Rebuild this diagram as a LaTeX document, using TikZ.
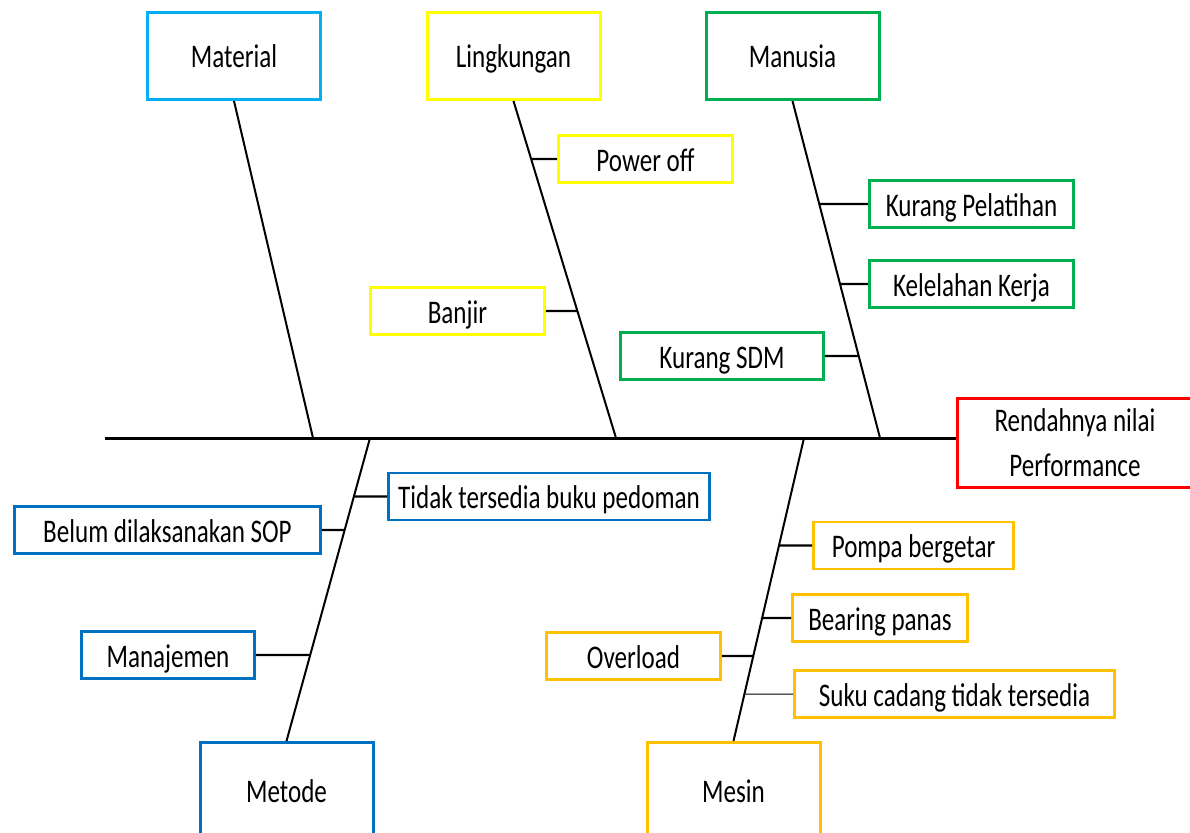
\documentclass[tikz,border=0pt]{standalone}
\usepackage{fontspec}
\setmainfont[FakeStretch=0.76]{Carlito}
\usetikzlibrary{positioning, calc}

\definecolor{matcyan}{HTML}{00B0F0}
\definecolor{envyellow}{HTML}{FFFF00}
\definecolor{mangreen}{HTML}{00B050}
\definecolor{metblue}{HTML}{0070C0}
\definecolor{mesgold}{HTML}{FFC000}
\definecolor{effred}{HTML}{FF0000}

\tikzset{
  catbox/.style={draw=#1, line width=3pt, minimum width=173pt, minimum height=87pt, inner sep=0pt, text height=24pt, text depth=0pt},
  causebox/.style={draw=#1, line width=2.6pt, minimum height=47pt, inner sep=0pt, text height=24pt, text depth=0pt},
  spine/.style={line width=3pt},
  bone/.style={line width=2pt},
  twig/.style={line width=2.4pt},
}

\begin{document}
\begin{tikzpicture}[x=1pt, y=-1pt, font=\fontsize{33}{45}\selectfont]
	\clip (0,0) rectangle (1190,832);

	% Effect box and spine
	\node[catbox=effred, text height={}, text depth={}, minimum width=236pt, minimum height=89pt, align=center] (eff) at (1075,442.5) {Rendahnya nilai\\Performance};
	\coordinate (tail) at (105,438);
	\draw[spine] (tail) -- (tail -| eff.west);

	% Categories
	\node[catbox=matcyan] (mat) at (234,56) {Material};
	\node[catbox=envyellow] (env) at (513.5,56) {Lingkungan};
	\node[catbox=mangreen] (man) at (792.5,56) {Manusia};
	\node[catbox=metblue, minimum height=95pt] (met) at (286.5,790) {Metode};
	\node[catbox=mesgold, minimum height=95pt] (mes) at (733.5,790) {Mesin};

	% Bones onto the spine
	\coordinate (matS) at (313,438);
	\coordinate (envS) at (616,438);
	\coordinate (manS) at (880,438);
	\coordinate (metS) at (370,438);
	\coordinate (mesS) at (804,438);
	\draw[bone] (mat.south) -- (matS);
	\draw[bone] (env.south) -- (envS);
	\draw[bone] (man.south) -- (manS);
	\draw[bone] (met.north) -- (metS);
	\draw[bone] (mes.north) -- (mesS);

	% Causes
	\node[causebox=envyellow, minimum width=174pt] (pw) at (645.5,159) {Power off};
	\node[causebox=envyellow, minimum width=174pt] (bj) at (457.5,311) {Banjir};
	\node[causebox=mangreen, minimum width=204pt] (kp) at (971.5,204) {Kurang Pelatihan};
	\node[causebox=mangreen, minimum width=204pt] (kk) at (971.5,284) {Kelelahan Kerja};
	\node[causebox=mangreen, minimum width=203pt] (ks) at (722,356) {Kurang SDM};
	\node[causebox=metblue, minimum width=321pt] (tb) at (549,496.5) {Tidak tersedia buku pedoman};
	\node[causebox=metblue, minimum width=306pt] (bs) at (167.5,530) {Belum dilaksanakan SOP};
	\node[causebox=metblue, minimum width=173pt] (mj) at (168,655) {Manajemen};
	\node[causebox=mesgold, minimum width=200pt] (pb) at (913.5,545.5) {Pompa bergetar};
	\node[causebox=mesgold, minimum width=175pt] (bp) at (880,618) {Bearing panas};
	\node[causebox=mesgold, minimum width=174pt] (ov) at (633.5,656) {Overload};
	\node[causebox=mesgold, minimum width=320pt] (sc) at (954.5,694) {Suku cadang tidak tersedia};

	% Ties to the bones
	\foreach \c/\sd in {pw/west, bj/east}
		\draw[twig] (\c.\sd) -- (intersection of env.south--envS and \c.west--\c.east);
	\foreach \c/\sd in {kp/west, kk/west, ks/east}
		\draw[twig] (\c.\sd) -- (intersection of man.south--manS and \c.west--\c.east);
	\foreach \c/\sd in {tb/west, bs/east, mj/east}
		\draw[twig] (\c.\sd) -- (intersection of met.north--metS and \c.west--\c.east);
	\foreach \c/\sd in {pb/west, bp/west, ov/east}
		\draw[twig] (\c.\sd) -- (intersection of mes.north--mesS and \c.west--\c.east);
	\draw[line width=1pt] (sc.west) -- (intersection of mes.north--mesS and sc.west--sc.east);
\end{tikzpicture}
\end{document}
